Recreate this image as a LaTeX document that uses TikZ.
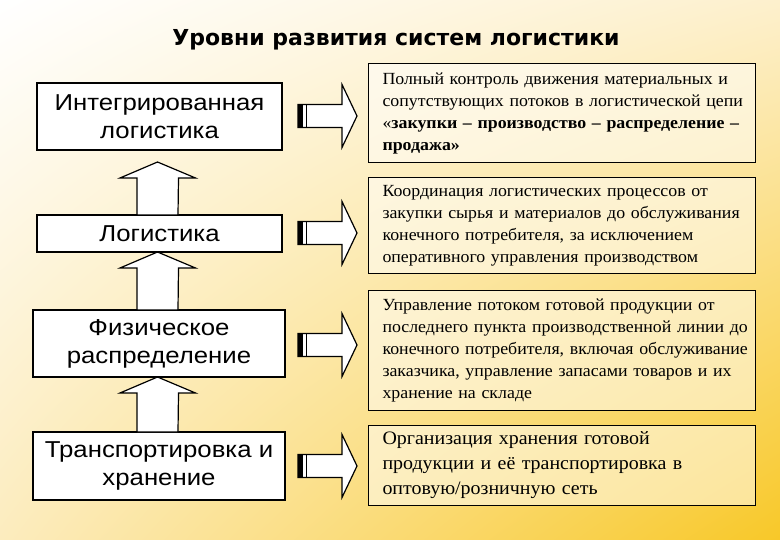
\documentclass[tikz,border=0pt]{standalone}
\usepackage{fontspec}
\setmainfont[FakeStretch=1.05]{Liberation Serif}
\setsansfont[FakeStretch=1.12]{Liberation Sans}
\newfontfamily\titlefont{DejaVu Sans}
\usetikzlibrary{shadings}
\definecolor{bgA}{RGB}{253,240,205}
\definecolor{bgB}{RGB}{252,236,190}
\definecolor{bgC}{RGB}{248,200,40}
\begin{document}
\begin{tikzpicture}[x=1pt,y=-1pt,
  lbox/.style={draw,line width=1.3pt,fill=white,align=center,font=\sffamily\fontsize{23}{28}\selectfont,inner sep=0pt},
  rbox/.style={draw,line width=1pt,fill=white,fill opacity=0.5,text opacity=1,align=left,anchor=north west,inner sep=0pt,text width=387pt,font=\fontsize{17}{22}\selectfont},
  arr/.style={draw,line width=1.2pt,fill=white}]
\useasboundingbox (0,0) rectangle (780,540);
\shade[upper left=white,upper right=bgA,lower left=bgB,lower right=bgC] (0,0) rectangle (780,540);
\node (title) at (396,40) {\titlefont\bfseries\fontsize{22}{24}\selectfont Уровни развития систем логистики};
% left boxes
\node[lbox,minimum width=245pt,minimum height=67pt] (l1) at (159.5,116.5) {Интегрированная\\логистика};
\node[lbox,minimum width=245pt,minimum height=37pt] (l2) at (159.5,233.5) {Логистика};
\node[lbox,minimum width=252pt,minimum height=67pt] (l3) at (159,343.5) {Физическое\\распределение};
\node[lbox,minimum width=252pt,minimum height=68pt] (l4) at (159,466) {Транспортировка и\\хранение};
% right boxes
\node[rbox,minimum height=99pt] (r1) at (368,63) {\hspace*{14pt}\parbox[c][99pt][c]{368pt}{Полный контроль движения материальных и сопутствующих потоков в логистической цепи «\textbf{закупки – производство – распределение – продажа»}}};
\node[rbox,minimum height=96pt] (r2) at (368,177) {\hspace*{14pt}\parbox[c][96pt][c]{368pt}{Координация логистических процессов от закупки сырья и материалов до обслуживания конечного потребителя, за исключением оперативного управления производством}};
\node[rbox,minimum height=120pt] (r3) at (368,290) {\hspace*{14pt}\parbox[c][120pt][c]{372pt}{Управление потоком готовой продукции от последнего пункта производственной линии до конечного потребителя, включая обслуживание заказчика, управление запасами товаров и их хранение на складе}};
\node[rbox,minimum height=80pt,font=\fontsize{19}{25}\selectfont] (r4) at (368,425) {\hspace*{14pt}\parbox[c][80pt][c]{372pt}{Организация хранения готовой продукции и её транспортировка в оптовую/розничную сеть}};
% right arrows
\foreach \n/\y in {a1/116,a2/233,a3/345,a4/466}{
  \coordinate (\n) at (298,\y);
  \draw[arr] ([yshift=11.5pt]\n) -- ++(44,0) -- ++(0,-20) -- ++(15,31.5) -- ++(-15,31.5) -- ++(0,-20) -- ++(-44,0) -- cycle;
  \fill ([yshift=11.5pt]\n) rectangle ++(5,23);
  \draw[line width=0.8pt] ([xshift=8pt,yshift=11.5pt]\n) -- ++(0,23);
}
% up arrows
\foreach \n/\t/\b in {u1/162/215,u2/252/310,u3/377/432}{
  \coordinate (\n) at (157.5,\t);
  \draw[arr] (\n) -- ++(38,16) -- ++(-17,0) -- (178,\b) -- (137,\b) -- ++(0,{-(\b-\t-16)}) -- ++(-17,0) -- cycle;
}
\end{tikzpicture}
\end{document}
